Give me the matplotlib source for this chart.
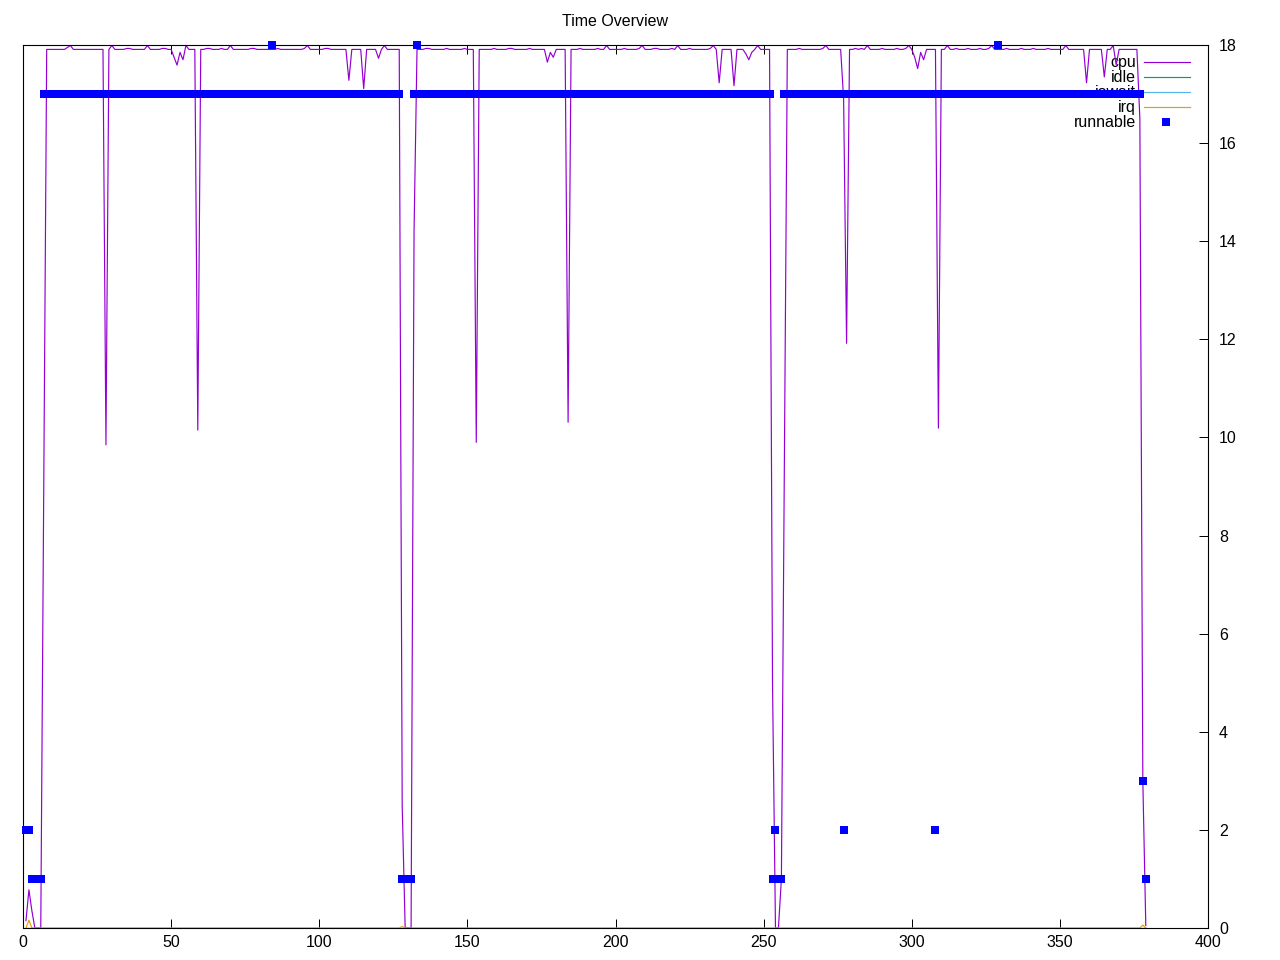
import matplotlib
matplotlib.use("Agg")
import matplotlib.pyplot as plt

plt.rcParams['font.family'] = ['Liberation Sans', 'DejaVu Sans']

title = "Time Overview"
series_names = ["cpu", "idle", "iowait", "irq", "runnable"]
series_colors = ["#9400d3", "#009e73", "#56b4e9", "#e69f00", "#0000ff"]
x_ticks = [0, 50, 100, 150, 200, 250, 300, 350, 400]
y_ticks = [0, 2, 4, 6, 8, 10, 12, 14, 16, 18]

# sample index 1..379
t = list(range(1, 380))

cpu = [
    0.15, 0.78, 0.35, 0.00, 0.00, 0.00, 9.00, 17.91, 17.91, 17.91,      # 1-10
    17.91, 17.91, 17.91, 17.91, 17.95, 17.99, 17.91, 17.91, 17.91, 17.91,  # 11-20
    17.91, 17.91, 17.91, 17.91, 17.91, 17.91, 17.91, 9.85, 17.91, 17.99,   # 21-30
    17.91, 17.91, 17.91, 17.91, 17.93, 17.93, 17.91, 17.91, 17.91, 17.91,  # 31-40
    17.91, 17.99, 17.91, 17.91, 17.91, 17.91, 17.93, 17.93, 17.91, 17.91,  # 41-50
    17.75, 17.59, 17.85, 17.70, 17.99, 17.91, 17.91, 17.91, 10.15, 17.91,  # 51-60
    17.91, 17.93, 17.93, 17.91, 17.91, 17.91, 17.93, 17.91, 17.91, 17.99,  # 61-70
    17.91, 17.91, 17.91, 17.91, 17.91, 17.91, 17.93, 17.93, 17.91, 17.91,  # 71-80
    17.91, 17.91, 17.91, 17.91, 17.91, 17.93, 17.91, 17.91, 17.91, 17.91,  # 81-90
    17.91, 17.91, 17.91, 17.91, 17.93, 17.99, 17.91, 17.91, 17.91, 17.91,  # 91-100
    17.91, 17.93, 17.93, 17.91, 17.91, 17.91, 17.91, 17.91, 17.91, 17.28,  # 101-110
    17.91, 17.91, 17.91, 17.91, 17.11, 17.91, 17.91, 17.91, 17.91, 17.73,  # 111-120
    17.91, 17.99, 17.91, 17.91, 17.91, 17.91, 17.91, 2.50, 0.00, 0.00,     # 121-130
    0.00, 14.20, 17.91, 17.91, 17.91, 17.93, 17.93, 17.91, 17.91, 17.91,   # 131-140
    17.91, 17.91, 17.93, 17.91, 17.91, 17.91, 17.91, 17.91, 17.93, 17.91,  # 141-150
    17.91, 17.91, 9.90, 17.91, 17.91, 17.91, 17.91, 17.91, 17.93, 17.91,   # 151-160
    17.91, 17.91, 17.91, 17.93, 17.93, 17.91, 17.91, 17.91, 17.91, 17.91,  # 161-170
    17.93, 17.91, 17.91, 17.91, 17.91, 17.91, 17.65, 17.85, 17.75, 17.91,  # 171-180
    17.91, 17.91, 17.91, 10.31, 17.91, 17.91, 17.91, 17.93, 17.91, 17.91,  # 181-190
    17.91, 17.91, 17.91, 17.93, 17.91, 17.91, 17.99, 17.91, 17.91, 17.91,  # 191-200
    17.91, 17.91, 17.93, 17.91, 17.91, 17.91, 17.91, 17.93, 17.99, 17.91,  # 201-210
    17.91, 17.91, 17.93, 17.93, 17.91, 17.91, 17.91, 17.91, 17.93, 17.91,  # 211-220
    17.99, 17.91, 17.91, 17.91, 17.93, 17.91, 17.91, 17.91, 17.91, 17.91,  # 221-230
    17.91, 17.93, 17.99, 17.91, 17.23, 17.91, 17.91, 17.91, 17.91, 17.17,  # 231-240
    17.91, 17.91, 17.91, 17.82, 17.70, 17.85, 17.91, 17.99, 17.91, 17.91,  # 241-250
    17.91, 17.91, 5.00, 0.00, 0.00, 1.00, 9.50, 17.91, 17.91, 17.91,       # 251-260
    17.91, 17.93, 17.91, 17.91, 17.91, 17.91, 17.91, 17.91, 17.91, 17.93,  # 261-270
    17.99, 17.91, 17.91, 17.91, 17.91, 17.91, 16.90, 11.92, 17.91, 17.91,  # 271-280
    17.93, 17.91, 17.93, 17.91, 17.99, 17.91, 17.91, 17.91, 17.91, 17.93,  # 281-290
    17.91, 17.91, 17.91, 17.91, 17.93, 17.91, 17.91, 17.93, 17.99, 17.91,  # 291-300
    17.75, 17.52, 17.85, 17.70, 17.91, 17.91, 17.91, 17.91, 10.19, 17.91,  # 301-310
    17.91, 17.99, 17.91, 17.91, 17.93, 17.91, 17.91, 17.91, 17.93, 17.91,  # 311-320
    17.91, 17.91, 17.93, 17.91, 17.91, 17.93, 17.99, 17.91, 17.91, 17.91,  # 321-330
    17.91, 17.93, 17.91, 17.91, 17.91, 17.91, 17.93, 17.91, 17.91, 17.91,  # 331-340
    17.93, 17.91, 17.91, 17.91, 17.91, 17.93, 17.91, 17.91, 17.91, 17.91,  # 341-350
    17.91, 17.99, 17.91, 17.91, 17.91, 17.91, 17.91, 17.91, 17.23, 17.91,  # 351-360
    17.91, 17.91, 17.91, 17.91, 17.35, 17.91, 17.91, 17.99, 17.60, 17.91,  # 361-370
    17.91, 17.91, 17.91, 17.91, 17.91, 17.91, 16.50, 3.00, 0.05,           # 371-379
]

idle = [
    0, 0, 0, 0, 0, 0, 0, 0, 0, 0, 0, 0, 0, 0, 0, 0, 0, 0, 0, 0,
    0, 0, 0, 0, 0, 0, 0, 0, 0, 0, 0, 0, 0, 0, 0, 0, 0, 0, 0, 0,
    0, 0, 0, 0, 0, 0, 0, 0, 0, 0, 0, 0, 0, 0, 0, 0, 0, 0, 0, 0,
    0, 0, 0, 0, 0, 0, 0, 0, 0, 0, 0, 0, 0, 0, 0, 0, 0, 0, 0, 0,
    0, 0, 0, 0, 0, 0, 0, 0, 0, 0, 0, 0, 0, 0, 0, 0, 0, 0, 0, 0,
    0, 0, 0, 0, 0, 0, 0, 0, 0, 0, 0, 0, 0, 0, 0, 0, 0, 0, 0, 0,
    0, 0, 0, 0, 0, 0, 0, 0, 0, 0, 0, 0, 0, 0, 0, 0, 0, 0, 0, 0,
    0, 0, 0, 0, 0, 0, 0, 0, 0, 0, 0, 0, 0, 0, 0, 0, 0, 0, 0, 0,
    0, 0, 0, 0, 0, 0, 0, 0, 0, 0, 0, 0, 0, 0, 0, 0, 0, 0, 0, 0,
    0, 0, 0, 0, 0, 0, 0, 0, 0, 0, 0, 0, 0, 0, 0, 0, 0, 0, 0, 0,
    0, 0, 0, 0, 0, 0, 0, 0, 0, 0, 0, 0, 0, 0, 0, 0, 0, 0, 0, 0,
    0, 0, 0, 0, 0, 0, 0, 0, 0, 0, 0, 0, 0, 0, 0, 0, 0, 0, 0, 0,
    0, 0, 0, 0, 0, 0, 0, 0, 0, 0, 0, 0, 0, 0, 0, 0, 0, 0, 0, 0,
    0, 0, 0, 0, 0, 0, 0, 0, 0, 0, 0, 0, 0, 0, 0, 0, 0, 0, 0, 0,
    0, 0, 0, 0, 0, 0, 0, 0, 0, 0, 0, 0, 0, 0, 0, 0, 0, 0, 0, 0,
    0, 0, 0, 0, 0, 0, 0, 0, 0, 0, 0, 0, 0, 0, 0, 0, 0, 0, 0, 0,
    0, 0, 0, 0, 0, 0, 0, 0, 0, 0, 0, 0, 0, 0, 0, 0, 0, 0, 0, 0,
    0, 0, 0, 0, 0, 0, 0, 0, 0, 0, 0, 0, 0, 0, 0, 0, 0, 0, 0, 0,
    0, 0, 0, 0, 0, 0, 0, 0, 0, 0, 0, 0, 0, 0, 0, 0, 0, 0, 0,
]

iowait = [
    0, 0, 0, 0, 0, 0, 0, 0, 0, 0, 0, 0, 0, 0, 0, 0, 0, 0, 0, 0,
    0, 0, 0, 0, 0, 0, 0, 0, 0, 0, 0, 0, 0, 0, 0, 0, 0, 0, 0, 0,
    0, 0, 0, 0, 0, 0, 0, 0, 0, 0, 0, 0, 0, 0, 0, 0, 0, 0, 0, 0,
    0, 0, 0, 0, 0, 0, 0, 0, 0, 0, 0, 0, 0, 0, 0, 0, 0, 0, 0, 0,
    0, 0, 0, 0, 0, 0, 0, 0, 0, 0, 0, 0, 0, 0, 0, 0, 0, 0, 0, 0,
    0, 0, 0, 0, 0, 0, 0, 0, 0, 0, 0, 0, 0, 0, 0, 0, 0, 0, 0, 0,
    0, 0, 0, 0, 0, 0, 0, 0, 0, 0, 0, 0, 0, 0, 0, 0, 0, 0, 0, 0,
    0, 0, 0, 0, 0, 0, 0, 0, 0, 0, 0, 0, 0, 0, 0, 0, 0, 0, 0, 0,
    0, 0, 0, 0, 0, 0, 0, 0, 0, 0, 0, 0, 0, 0, 0, 0, 0, 0, 0, 0,
    0, 0, 0, 0, 0, 0, 0, 0, 0, 0, 0, 0, 0, 0, 0, 0, 0, 0, 0, 0,
    0, 0, 0, 0, 0, 0, 0, 0, 0, 0, 0, 0, 0, 0, 0, 0, 0, 0, 0, 0,
    0, 0, 0, 0, 0, 0, 0, 0, 0, 0, 0, 0, 0, 0, 0, 0, 0, 0, 0, 0,
    0, 0, 0, 0, 0, 0, 0, 0, 0, 0, 0, 0, 0, 0, 0, 0, 0, 0, 0, 0,
    0, 0, 0, 0, 0, 0, 0, 0, 0, 0, 0, 0, 0, 0, 0, 0, 0, 0, 0, 0,
    0, 0, 0, 0, 0, 0, 0, 0, 0, 0, 0, 0, 0, 0, 0, 0, 0, 0, 0, 0,
    0, 0, 0, 0, 0, 0, 0, 0, 0, 0, 0, 0, 0, 0, 0, 0, 0, 0, 0, 0,
    0, 0, 0, 0, 0, 0, 0, 0, 0, 0, 0, 0, 0, 0, 0, 0, 0, 0, 0, 0,
    0, 0, 0, 0, 0, 0, 0, 0, 0, 0, 0, 0, 0, 0, 0, 0, 0, 0, 0, 0,
    0, 0, 0, 0, 0, 0, 0, 0, 0, 0, 0, 0, 0, 0, 0, 0, 0, 0, 0,
]

irq = [
    0, 0.16, 0, 0, 0, 0, 0, 0, 0, 0, 0, 0, 0, 0, 0, 0, 0, 0, 0, 0,          # 1-20
    0, 0, 0, 0, 0, 0, 0, 0, 0, 0, 0, 0, 0, 0, 0, 0, 0, 0, 0, 0,             # 21-40
    0, 0, 0, 0, 0, 0, 0, 0, 0, 0, 0, 0, 0, 0, 0, 0, 0, 0, 0, 0,             # 41-60
    0, 0, 0, 0, 0, 0, 0, 0, 0, 0, 0, 0, 0, 0, 0, 0, 0, 0, 0, 0,             # 61-80
    0, 0, 0, 0, 0, 0, 0, 0, 0, 0, 0, 0, 0, 0, 0, 0, 0, 0, 0, 0,             # 81-100
    0, 0, 0, 0, 0, 0, 0, 0, 0, 0, 0, 0, 0, 0, 0, 0, 0, 0, 0, 0,             # 101-120
    0, 0, 0, 0, 0, 0, 0, 0.03, 0, 0, 0, 0, 0, 0, 0, 0, 0, 0, 0, 0,          # 121-140
    0, 0, 0, 0, 0, 0, 0, 0, 0, 0, 0, 0, 0, 0, 0, 0, 0, 0, 0, 0,             # 141-160
    0, 0, 0, 0, 0, 0, 0, 0, 0, 0, 0, 0, 0, 0, 0, 0, 0, 0, 0, 0,             # 161-180
    0, 0, 0, 0, 0, 0, 0, 0, 0, 0, 0, 0, 0, 0, 0, 0, 0, 0, 0, 0,             # 181-200
    0, 0, 0, 0, 0, 0, 0, 0, 0, 0, 0, 0, 0, 0, 0, 0, 0, 0, 0, 0,             # 201-220
    0, 0, 0, 0, 0, 0, 0, 0, 0, 0, 0, 0, 0, 0, 0, 0, 0, 0, 0, 0,             # 221-240
    0, 0, 0, 0, 0, 0, 0, 0, 0, 0, 0, 0, 0, 0, 0, 0, 0, 0, 0, 0,             # 241-260
    0, 0, 0, 0, 0, 0, 0, 0, 0, 0, 0, 0, 0, 0, 0, 0, 0, 0, 0, 0,             # 261-280
    0, 0, 0, 0, 0, 0, 0, 0, 0, 0, 0, 0, 0, 0, 0, 0, 0, 0, 0, 0,             # 281-300
    0, 0, 0, 0, 0, 0, 0, 0, 0, 0, 0, 0, 0, 0, 0, 0, 0, 0, 0, 0,             # 301-320
    0, 0, 0, 0, 0, 0, 0, 0, 0, 0, 0, 0, 0, 0, 0, 0, 0, 0, 0, 0,             # 321-340
    0, 0, 0, 0, 0, 0, 0, 0, 0, 0, 0, 0, 0, 0, 0, 0, 0, 0, 0, 0,             # 341-360
    0, 0, 0, 0, 0, 0, 0, 0, 0, 0, 0, 0, 0, 0, 0, 0, 0, 0.06, 0,             # 361-379
]

runnable = [
    2, 2, 1, 1, 1, 1, 17, 17, 17, 17,            # 1-10
    17, 17, 17, 17, 17, 17, 17, 17, 17, 17,      # 11-20
    17, 17, 17, 17, 17, 17, 17, 17, 17, 17,      # 21-30
    17, 17, 17, 17, 17, 17, 17, 17, 17, 17,      # 31-40
    17, 17, 17, 17, 17, 17, 17, 17, 17, 17,      # 41-50
    17, 17, 17, 17, 17, 17, 17, 17, 17, 17,      # 51-60
    17, 17, 17, 17, 17, 17, 17, 17, 17, 17,      # 61-70
    17, 17, 17, 17, 17, 17, 17, 17, 17, 17,      # 71-80
    17, 17, 17, 18, 17, 17, 17, 17, 17, 17,      # 81-90
    17, 17, 17, 17, 17, 17, 17, 17, 17, 17,      # 91-100
    17, 17, 17, 17, 17, 17, 17, 17, 17, 17,      # 101-110
    17, 17, 17, 17, 17, 17, 17, 17, 17, 17,      # 111-120
    17, 17, 17, 17, 17, 17, 17, 1, 1, 1,         # 121-130
    1, 17, 18, 17, 17, 17, 17, 17, 17, 17,       # 131-140
    17, 17, 17, 17, 17, 17, 17, 17, 17, 17,      # 141-150
    17, 17, 17, 17, 17, 17, 17, 17, 17, 17,      # 151-160
    17, 17, 17, 17, 17, 17, 17, 17, 17, 17,      # 161-170
    17, 17, 17, 17, 17, 17, 17, 17, 17, 17,      # 171-180
    17, 17, 17, 17, 17, 17, 17, 17, 17, 17,      # 181-190
    17, 17, 17, 17, 17, 17, 17, 17, 17, 17,      # 191-200
    17, 17, 17, 17, 17, 17, 17, 17, 17, 17,      # 201-210
    17, 17, 17, 17, 17, 17, 17, 17, 17, 17,      # 211-220
    17, 17, 17, 17, 17, 17, 17, 17, 17, 17,      # 221-230
    17, 17, 17, 17, 17, 17, 17, 17, 17, 17,      # 231-240
    17, 17, 17, 17, 17, 17, 17, 17, 17, 17,      # 241-250
    17, 17, 1, 2, 1, 1, 17, 17, 17, 17,          # 251-260
    17, 17, 17, 17, 17, 17, 17, 17, 17, 17,      # 261-270
    17, 17, 17, 17, 17, 17, 2, 17, 17, 17,       # 271-280
    17, 17, 17, 17, 17, 17, 17, 17, 17, 17,      # 281-290
    17, 17, 17, 17, 17, 17, 17, 17, 17, 17,      # 291-300
    17, 17, 17, 17, 17, 17, 17, 2, 17, 17,       # 301-310
    17, 17, 17, 17, 17, 17, 17, 17, 17, 17,      # 311-320
    17, 17, 17, 17, 17, 17, 17, 17, 18, 17,      # 321-330
    17, 17, 17, 17, 17, 17, 17, 17, 17, 17,      # 331-340
    17, 17, 17, 17, 17, 17, 17, 17, 17, 17,      # 341-350
    17, 17, 17, 17, 17, 17, 17, 17, 17, 17,      # 351-360
    17, 17, 17, 17, 17, 17, 17, 17, 17, 17,      # 361-370
    17, 17, 17, 17, 17, 17, 17, 3, 1,            # 371-379
]

for s in (cpu, idle, iowait, irq, runnable):
    assert len(s) == len(t), len(s)

W, H = 1280, 960
fig = plt.figure(figsize=(W / 100, H / 100), dpi=100)
L, R, T, B = 23, 1208, 45, 928
ax = fig.add_axes([L / W, (H - B) / H, (R - L) / W, (B - T) / H])

lw = 0.85
msize = 5.6
lines_data = [cpu, idle, iowait, irq]
for name, col, vals in zip(series_names[:4], series_colors[:4], lines_data):
    ax.plot(t, vals, color=col, lw=lw, zorder=2)
ax.plot(t, runnable, linestyle='none', marker='s', markersize=msize, mew=0,
        color=series_colors[4], zorder=4, clip_on=False)

ax.set_xlim(0, 400)
ax.set_ylim(0, 18)
ax.set_xticks(x_ticks)
ax.set_yticks(y_ticks)
ax.set_xticklabels([str(v) for v in x_ticks])
ax.set_yticklabels([str(v) for v in y_ticks])
ax.tick_params(axis='x', direction='in', length=6.5, width=0.72, top=True,
               bottom=True, labelsize=11.5, pad=5)
ax.tick_params(axis='y', direction='in', length=6.5, width=0.72, left=False,
               right=True, labelleft=False, labelright=True, labelsize=11.5, pad=8)
for sp in ax.spines.values():
    sp.set_linewidth(0.8)

ax.set_title(title, fontsize=11.5, pad=14)

# gnuplot-style key: right-aligned labels followed by a sample
def ax_x(px):
    return (px - L) / (R - L)

def ax_y(py):
    return (B - py) / (B - T)

key_rows = [62.3, 77.3, 92.3, 107.3, 122.3]
for i, (name, col) in enumerate(zip(series_names, series_colors)):
    yy = ax_y(key_rows[i])
    ax.text(ax_x(1136), yy, name, transform=ax.transAxes, ha='right',
            va='center', fontsize=11.5, zorder=1)
    if name == "runnable":
        ax.plot([ax_x(1166)], [yy], transform=ax.transAxes, marker='s',
                markersize=msize, mew=0, color=col, linestyle='none', zorder=4,
                clip_on=False)
    else:
        ax.plot([ax_x(1144), ax_x(1190)], [yy, yy], transform=ax.transAxes,
                color=col, lw=lw, zorder=2)

fig.savefig("out.png", dpi=100)
